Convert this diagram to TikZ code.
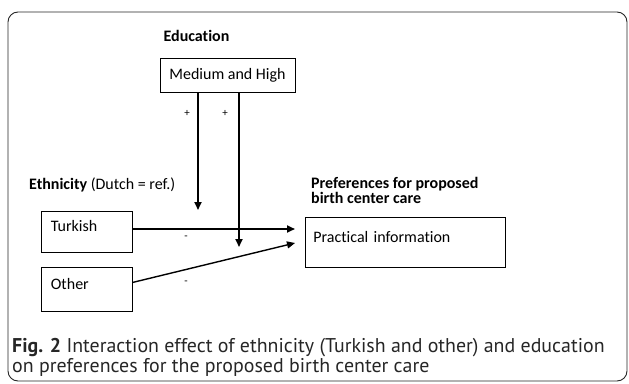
\documentclass[tikz,border=0pt]{standalone}
\usepackage{fontspec}
\setmainfont[Ligatures=NoCommon]{Carlito}
\newfontfamily\capfont{PT Sans}
\usetikzlibrary{arrows.meta}

\begin{document}
\begin{tikzpicture}[x=1pt, y=-1pt, >={Triangle[length=8pt,width=7pt]},
    txt/.style={font=\fontsize{16}{16}\selectfont},
    head/.style={inner sep=0pt, font=\fontsize{16}{16}\selectfont\bfseries},
    box/.style={draw=black, line width=0.8pt, align=left, text height=10pt, text depth=10pt, txt},
    sign/.style={inner sep=0pt, font=\fontsize{11}{12}\selectfont},
    link/.style={->, line width=1.8pt}]
    \useasboundingbox (0,0) rectangle (629,383);
    \draw[rounded corners=10pt, line width=0.9pt, black!85] (8,12) rectangle (627,381);

    \node[head] (edu) at (196.5,36) {Education};
    \node[draw=black, line width=0.8pt, minimum width=135pt, minimum height=34pt, txt] (mh) at (227.5,75) {Medium and High};

    \node[inner sep=0pt, anchor=west, txt] (eth) at (29,185) {\textbf{Ethnicity} (Dutch = ref.)};
    \node[head, anchor=north west, align=left] (pref) at (311,177) {Preferences for proposed\\[-1pt]birth center care};

    \node[box, anchor=north west, minimum width=91pt, minimum height=41pt, text width=72pt, inner xsep=9.5pt] (turkish) at (41,211) {Turkish};
    \node[box, anchor=north west, minimum width=91pt, minimum height=44pt, text width=72pt, inner xsep=9.5pt] (other) at (41,267) {Other};
    \node[box, anchor=north west, minimum width=200pt, minimum height=50pt, text width=184pt, inner xsep=8pt] (prac) at (305,217) {Practical information};

    \node[sign] (p1) at (187,113) {+};
    \node[sign] (p2) at (225,113) {+};
    \node[sign] (m1) at (186,238) {-};
    \node[sign] (m2) at (186,283) {-};

    \coordinate (e1) at (198,210);
    \coordinate (e2) at (239,247);
    \coordinate (e3) at (295,229);
    \coordinate (e4) at (295,243);

    \draw [link] (mh.south -| e1) -- (e1);
    \draw [link] (mh.south -| e2) -- (e2);
    \draw [link] (turkish.east |- e3) -- (e3);
    \draw [link, line width=1.4pt] ([yshift=7pt]other.east) -- (e4);

    \node[inner sep=0pt, anchor=north west, align=left, text=black!85, font=\capfont\fontsize{19.9}{20.5}\selectfont] (cap) at (12,338)
      {\textbf{Fig. 2} Interaction effect of ethnicity (Turkish and other) and education\\on preferences for the proposed birth center care};
\end{tikzpicture}
\end{document}
